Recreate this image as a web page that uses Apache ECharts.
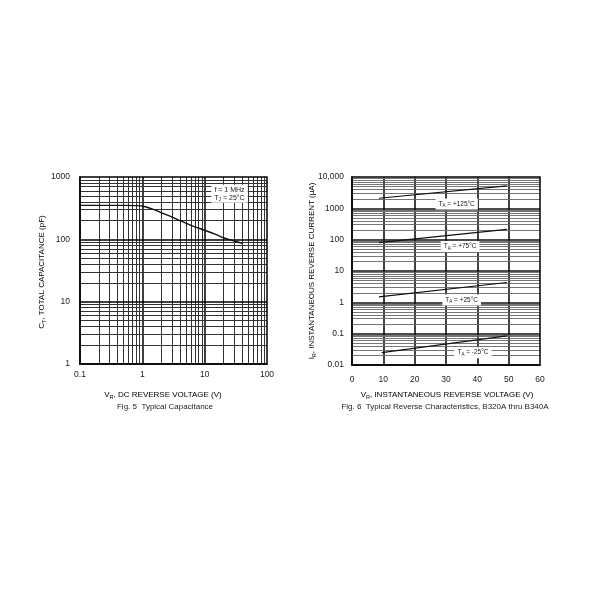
<!DOCTYPE html>
<html>
<head>
<meta charset="utf-8">
<script src="https://cdn.jsdelivr.net/npm/echarts@6/dist/echarts.min.js"></script>
<style>html,body{margin:0;padding:0;background:#fff}#c{width:600px;height:600px}</style>
</head>
<body>
<div id="c"></div>
<script>
// ---- Fig. 5 data (Typical Capacitance) ----
const capVoltage = [0.1, 0.2, 0.5, 0.8, 1, 1.5, 2, 3, 4, 6, 10, 15, 20, 30, 40];
const capPF      = [350, 350, 350, 348, 342, 302, 268, 228, 200, 168, 140, 120, 106, 94, 86];
const capXTicks = ['0.1', '1', '10', '100'];
const capYTicks = ['1', '10', '100', '1000'];

// ---- Fig. 6 data (Typical Reverse Characteristics) ----
const revVoltage = [8.6, 49.4];
const revVoltageM25 = [9.5, 49.4];
const ir125 = [2100, 5200];
const ir75  = [80, 214];
const ir25  = [1.5, 4.3];
const irM25 = [0.025, 0.085];
const revXTicks = ['0', '10', '20', '30', '40', '50', '60'];
const revYTicks = ['0.01', '0.1', '1', '10', '100', '1000', '10,000'];

const FONT = 'Liberation Sans, Arial, sans-serif';
const zip = (a, b) => a.map((v, i) => [v, b[i]]);

function logLines(minDec, maxDec) {
  const minor = [], major = [];
  for (let d = minDec; d < maxDec; d++) {
    const base = Math.pow(10, d);
    for (let k = 2; k <= 9; k++) minor.push(+(k * base).toPrecision(3));
    if (d > minDec) major.push(+base.toPrecision(3));
  }
  return { minor, major };
}

const capX = logLines(-1, 2), capY = logLines(0, 3);
const revY = logLines(-2, 4);
const revXLines = [10, 20, 30, 40, 50];

function gridMarks(xs, ys) {
  const d = [];
  xs.forEach(o => d.push({ xAxis: o.v, lineStyle: o.s }));
  ys.forEach(o => d.push({ yAxis: o.v, lineStyle: o.s }));
  return d;
}
const minL = { color: '#333', width: 1, type: 'solid' };
const majL = { color: '#000', width: 1.5, type: 'solid' };
const revMin = { color: '#666', width: 0.9, type: 'solid' };
const revMaj = { color: '#111', width: 1.6, type: 'solid' };
const revV = { color: '#000', width: 1.5, type: 'solid' };

const capGridData = gridMarks(
  capX.minor.map(v => ({ v, s: minL })).concat(capX.major.map(v => ({ v, s: majL }))),
  capY.minor.map(v => ({ v, s: minL })).concat(capY.major.map(v => ({ v, s: majL })))
);
const revGridData = gridMarks(
  revXLines.map(v => ({ v, s: revV })),
  revY.minor.map(v => ({ v, s: revMin })).concat(revY.major.map(v => ({ v, s: revMaj })))
);

const rich = {
  b: { fontFamily: FONT, fontSize: 8, color: '#222', lineHeight: 11 },
  s: { fontFamily: FONT, fontSize: 5.5, color: '#222', verticalAlign: 'bottom', lineHeight: 7 },
  lb: { fontFamily: FONT, fontSize: 6.5, color: '#222', lineHeight: 9 },
  ls: { fontFamily: FONT, fontSize: 4.5, color: '#222', verticalAlign: 'bottom', lineHeight: 6 },
  ab: { fontFamily: FONT, fontSize: 7, color: '#222', lineHeight: 8 },
  as: { fontFamily: FONT, fontSize: 5, color: '#222', verticalAlign: 'bottom', lineHeight: 6 }
};

function boxLabel(coord, text) {
  return {
    coord, symbol: 'rect', symbolSize: 1, itemStyle: { color: 'rgba(0,0,0,0)' },
    label: { show: true, position: 'inside', formatter: text, rich, backgroundColor: '#fff', padding: [1, 3, 1, 3], lineHeight: 9 }
  };
}

const axisLbl = { fontFamily: FONT, fontSize: 8.5, color: '#222' };

const option = {
  animation: false,
  backgroundColor: '#fff',
  grid: [
    { left: 80, top: 177, width: 187, height: 187, show: false },
    { left: 352, top: 177, width: 188, height: 188, show: false }
  ],
  xAxis: [
    { gridIndex: 0, type: 'log', logBase: 10, min: 0.1, max: 100,
      axisLine: { show: true, lineStyle: { color: '#000', width: 1.5 } }, axisTick: { show: false },
      splitLine: { show: false }, minorTick: { show: false },
      axisLabel: { ...axisLbl, margin: 6, formatter: v => capXTicks[Math.round(Math.log10(v)) + 1] } },
    { gridIndex: 1, type: 'value', min: 0, max: 60, interval: 10,
      axisLine: { show: true, lineStyle: { color: '#000', width: 1.5 } }, axisTick: { show: false },
      splitLine: { show: false },
      axisLabel: { ...axisLbl, margin: 10, formatter: v => revXTicks[Math.round(v / 10)] } }
  ],
  yAxis: [
    { gridIndex: 0, type: 'log', logBase: 10, min: 1, max: 1000,
      axisLine: { show: true, lineStyle: { color: '#000', width: 1.5 } }, axisTick: { show: false },
      splitLine: { show: false },
      axisLabel: { ...axisLbl, margin: 10, formatter: v => capYTicks[Math.round(Math.log10(v))] } },
    { gridIndex: 1, type: 'log', logBase: 10, min: 0.01, max: 10000,
      axisLine: { show: true, lineStyle: { color: '#000', width: 1.5 } }, axisTick: { show: false },
      splitLine: { show: false },
      axisLabel: { ...axisLbl, margin: 8, formatter: v => revYTicks[Math.round(Math.log10(v)) + 2] } }
  ],
  series: [
    { type: 'line', xAxisIndex: 0, yAxisIndex: 0, z: 1, data: zip(capVoltage, capPF), showSymbol: false,
      lineStyle: { opacity: 0 }, silent: true,
      markLine: { silent: true, symbol: ['none', 'none'], label: { show: false }, data: capGridData } },
    { type: 'line', xAxisIndex: 1, yAxisIndex: 1, z: 1, data: zip(revVoltage, ir125), showSymbol: false,
      lineStyle: { opacity: 0 }, silent: true,
      markLine: { silent: true, symbol: ['none', 'none'], label: { show: false }, data: revGridData } },
    { type: 'line', xAxisIndex: 0, yAxisIndex: 0, z: 5, data: zip(capVoltage, capPF), showSymbol: false, smooth: 0.3,
      lineStyle: { color: '#111', width: 1.4 },
      markPoint: { silent: true, data: [ boxLabel([25, 540], '{ab|f = 1 MHz}\n{ab|T}{as|J}{ab| = 25°C}') ] } },
    { type: 'line', xAxisIndex: 1, yAxisIndex: 1, z: 5, data: zip(revVoltage, ir125), showSymbol: false,
      lineStyle: { color: '#111', width: 1.2 },
      markPoint: { silent: true, data: [ boxLabel([33.4, 1374], '{lb|T}{ls|A}{lb| = +125°C}') ] } },
    { type: 'line', xAxisIndex: 1, yAxisIndex: 1, z: 5, data: zip(revVoltage, ir75), showSymbol: false,
      lineStyle: { color: '#111', width: 1.2 },
      markPoint: { silent: true, data: [ boxLabel([34.5, 60], '{lb|T}{ls|A}{lb| = +75°C}') ] } },
    { type: 'line', xAxisIndex: 1, yAxisIndex: 1, z: 5, data: zip(revVoltage, ir25), showSymbol: false,
      lineStyle: { color: '#111', width: 1.2 },
      markPoint: { silent: true, data: [ boxLabel([35, 1.19], '{lb|T}{ls|A}{lb| = +25°C}') ] } },
    { type: 'line', xAxisIndex: 1, yAxisIndex: 1, z: 5, data: zip(revVoltageM25, irM25), showSymbol: false,
      lineStyle: { color: '#111', width: 1.2 },
      markPoint: { silent: true, data: [ boxLabel([38.6, 0.0247], '{lb|T}{ls|A}{lb| = -25°C}') ] } }
  ],
  graphic: [
    { type: 'rect', shape: { x: 80, y: 177, width: 187, height: 187 }, style: { fill: 'none', stroke: '#000', lineWidth: 1.5 }, z: 10, silent: true },
    { type: 'rect', shape: { x: 352, y: 177, width: 188, height: 188 }, style: { fill: 'none', stroke: '#000', lineWidth: 1.5 }, z: 10, silent: true },
    { type: 'text', x: 163, y: 395, style: { text: '{b|V}{s|R}{b|, DC REVERSE VOLTAGE (V)}', rich, align: 'center', verticalAlign: 'middle' } },
    { type: 'text', x: 165, y: 407, style: { text: 'Fig. 5  Typical Capacitance', font: '8px ' + FONT, fill: '#222', align: 'center', verticalAlign: 'middle' } },
    { type: 'text', x: 447, y: 395, style: { text: '{b|V}{s|R}{b|, INSTANTANEOUS REVERSE VOLTAGE (V)}', rich, align: 'center', verticalAlign: 'middle' } },
    { type: 'text', x: 445, y: 407, style: { text: 'Fig. 6  Typical Reverse Characteristics, B320A thru B340A', font: '8px ' + FONT, fill: '#222', align: 'center', verticalAlign: 'middle' } },
    { type: 'text', x: 42, y: 272, rotation: Math.PI / 2, style: { text: '{b|C}{s|T}{b|, TOTAL CAPACITANCE (pF)}', rich, align: 'center', verticalAlign: 'middle' } },
    { type: 'text', x: 312, y: 271, rotation: Math.PI / 2, style: { text: '{b|I}{s|R}{b|, INSTANTANEOUS REVERSE CURRENT (μA)}', rich, align: 'center', verticalAlign: 'middle' } }
  ]
};

const chart = echarts.init(document.getElementById('c'), null, { renderer: 'canvas' });
chart.setOption(option);
</script>
</body>
</html>
